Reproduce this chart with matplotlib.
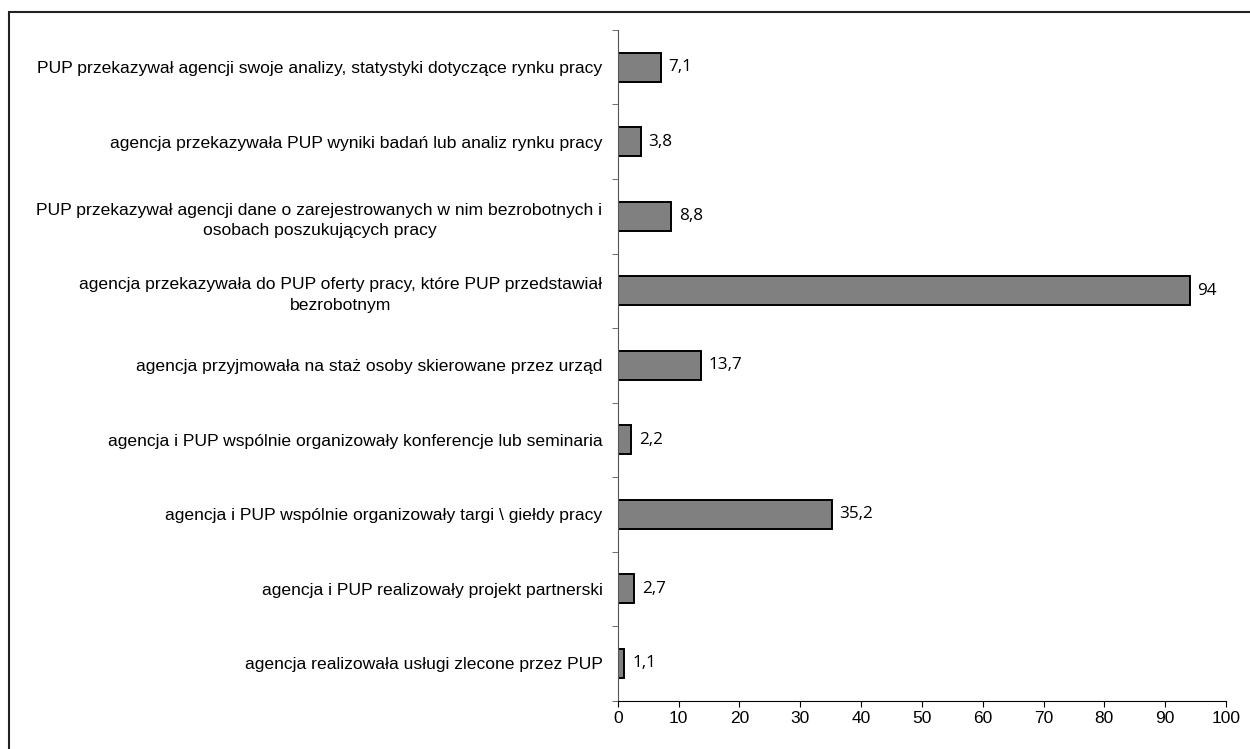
import matplotlib
matplotlib.use("Agg")
import matplotlib.pyplot as plt
import numpy as np
from matplotlib.patches import Rectangle

# ----
# Data (top to bottom as in the chart)
# ----
categories = [
    "PUP przekazywał agencji swoje analizy, statystyki dotyczące rynku pracy",
    "agencja przekazywała PUP wyniki badań lub analiz rynku pracy",
    "PUP przekazywał agencji dane o zarejestrowanych w nim bezrobotnych i\nosobach poszukujących pracy",
    "agencja przekazywała do PUP oferty pracy, które PUP przedstawiał\nbezrobotnym",
    "agencja przyjmowała na staż osoby skierowane przez urząd",
    "agencja i PUP wspólnie organizowały konferencje lub seminaria",
    "agencja i PUP wspólnie organizowały targi \\ giełdy pracy",
    "agencja i PUP realizowały projekt partnerski",
    "agencja realizowała usługi zlecone przez PUP",
]
values = [7.1, 3.8, 8.8, 94, 13.7, 2.2, 35.2, 2.7, 1.1]
value_labels = ["7,1", "3,8", "8,8", "94", "13,7", "2,2", "35,2", "2,7", "1,1"]
xticks = [0, 10, 20, 30, 40, 50, 60, 70, 80, 90, 100]

plt.rcParams["font.family"] = ["Liberation Sans", "DejaVu Sans"]

fig = plt.figure(figsize=(12.5, 7.49), dpi=100)
ax = fig.add_axes([0.4942, 0.0646, 0.4866, 0.8954])

# ----
# Bars
# ----
y = np.arange(len(categories))
ax.barh(y, values, height=0.39, color="#808080", edgecolor="black", linewidth=1.4)

for yi, v, lab in zip(y, values, value_labels):
    ax.annotate(lab, (v, yi), xytext=(5.5, 0), textcoords="offset points",
                va="center", ha="left", fontsize=12.3, family=["Open Sans", "DejaVu Sans"])

ax.set_ylim(len(categories) - 0.5, -0.5)
ax.set_xlim(0, 100)

# ----
# Axes styling
# ----
ax.set_yticks(y)
ax.set_yticklabels(categories, fontsize=12.6, linespacing=1.45)
for t in ax.get_yticklabels():
    t.set_multialignment("center")
ax.set_yticks(np.arange(-0.5, len(categories), 1.0), minor=True)
ax.tick_params(axis="y", which="major", length=0, pad=11)
ax.tick_params(axis="y", which="minor", length=4.5, color="#555555")
ax.set_xticks(xticks)
ax.tick_params(axis="x", length=4.5, pad=3, labelsize=12.5)

ax.spines["top"].set_visible(False)
ax.spines["right"].set_visible(False)
ax.spines["left"].set_color("#555555")

# ----
# Frame around chart
# ----
fig.patches.append(Rectangle((9 / 1250, -0.1), 1.2, 1.1 - 12 / 749, transform=fig.transFigure,
                             fill=False, edgecolor="#222222", linewidth=1.5))

plt.savefig("out.png", dpi=100)
